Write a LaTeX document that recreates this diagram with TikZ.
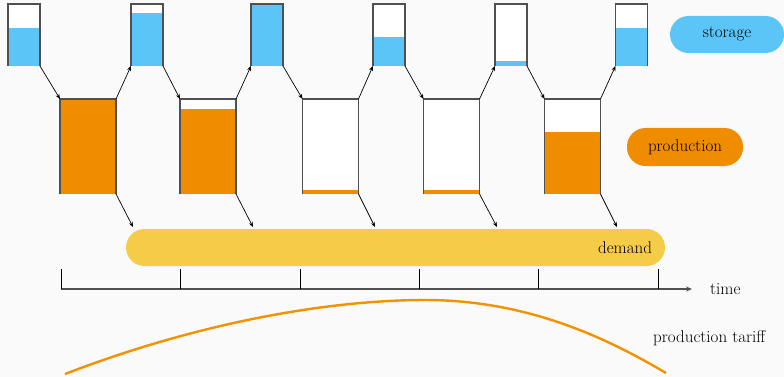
\documentclass[tikz,border=0pt]{standalone}
\usetikzlibrary{arrows.meta}
\definecolor{bg}{HTML}{FAFAFA}
\definecolor{sblue}{HTML}{5BC5F7}
\definecolor{porange}{HTML}{EF8C00}
\definecolor{dyellow}{HTML}{F5CC47}
\definecolor{tcurve}{HTML}{F39200}
\definecolor{edgegray}{HTML}{505050}
\begin{document}
\begin{tikzpicture}[x=1pt,y=-1pt,
  every node/.style={font=\fontsize{17}{20}\selectfont},
  store/.style={inner sep=0pt,outer sep=0pt,minimum width=32pt,minimum height=62pt},
  prod/.style={inner sep=0pt,outer sep=0pt,minimum width=56pt,minimum height=95pt},
  cup/.style={draw=edgegray,line width=1.1pt},
  arr/.style={draw=black,line width=0.7pt,-{Stealth[length=5pt,width=4pt]}},
  pill/.style={inner sep=0pt,outer sep=0pt,rounded corners=18.5pt,minimum height=37pt}]
\fill[bg] (0,0) rectangle (784,377);
\useasboundingbox (0,0) rectangle (784,377);
% storage containers
\node[store] (s1) at (24,35) {};
\node[store] (s2) at (147,35) {};
\node[store] (s3) at (267,35) {};
\node[store] (s4) at (389,35) {};
\node[store] (s5) at (511,35) {};
\node[store] (s6) at (631.5,35) {};
% production containers
\node[prod] (p1) at (88,146.5) {};
\node[prod] (p2) at (208,146.5) {};
\node[prod] (p3) at (330.5,146.5) {};
\node[prod] (p4) at (451.5,146.5) {};
\node[prod] (p5) at (572.5,146.5) {};
% white interiors
\foreach \n in {s1,s2,s3,s4,s5,s6,p1,p2,p3,p4,p5}
  \fill[white] (\n.south west) rectangle (\n.north east);
% fill levels
\fill[sblue] (s1.south west) rectangle (s1.east |- 0,28);
\fill[sblue] (s2.south west) rectangle (s2.east |- 0,13);
\fill[sblue] (s3.south west) rectangle (s3.north east);
\fill[sblue] (s4.south west) rectangle (s4.east |- 0,37);
\fill[sblue] (s5.south west) rectangle (s5.east |- 0,61.5);
\fill[sblue] (s6.south west) rectangle (s6.east |- 0,28);
\fill[porange] (p1.south west) rectangle (p1.north east);
\fill[porange] (p2.south west) rectangle (p2.east |- 0,109);
\fill[porange] (p3.south west) rectangle (p3.east |- 0,189.5);
\fill[porange] (p4.south west) rectangle (p4.east |- 0,189.5);
\fill[porange] (p5.south west) rectangle (p5.east |- 0,132);
% outlines
\foreach \n in {s1,s2,s3,s4,s5,s6,p1,p2,p3,p4,p5}
  \draw[cup] (\n.south west) -- (\n.north west) -- (\n.north east) -- (\n.south east);
% demand bar
\node[pill,fill=dyellow,minimum width=539pt,text width=513pt,align=right,inner xsep=13pt] (demand) at (395.5,247.5) {demand};
% arrow ends on demand bar
\coordinate (d1) at (133,227);
\coordinate (d2) at (253,227);
\coordinate (d3) at (375,227);
\coordinate (d4) at (497,227);
\coordinate (d5) at (617,227);
% arrows
\draw[arr] (s1.south east) -- (p1.north west);
\draw[arr] (p1.north east) -- (s2.south west);
\draw[arr] (s2.south east) -- (p2.north west);
\draw[arr] (p2.north east) -- (s3.south west);
\draw[arr] (s3.south east) -- (p3.north west);
\draw[arr] (p3.north east) -- (s4.south west);
\draw[arr] (s4.south east) -- (p4.north west);
\draw[arr] (p4.north east) -- (s5.south west);
\draw[arr] (s5.south east) -- (p5.north west);
\draw[arr] (p5.north east) -- (s6.south west);
\draw[arr] (p1.south east) -- (d1);
\draw[arr] (p2.south east) -- (d2);
\draw[arr] (p3.south east) -- (d3);
\draw[arr] (p4.south east) -- (d4);
\draw[arr] (p5.south east) -- (d5);
% legend
\node[pill,fill=sblue,minimum width=114pt] (lstorage) at (727,34.5) {storage};
\node[pill,fill=porange,minimum width=116pt,minimum height=38pt] (lprod) at (685,147) {production};
% time axis
\coordinate (t0) at (61,289);
\coordinate (t1) at (180,289);
\coordinate (t2) at (300,289);
\coordinate (t3) at (419,289);
\coordinate (t4) at (538,289);
\coordinate (t5) at (658,289);
\coordinate (tend) at (692,289);
\draw[draw=edgegray,line width=1.1pt,-{Stealth[length=6pt,width=5pt]}] (t0) -- (tend);
\foreach \t in {t0,t1,t2,t3,t4,t5}
  \draw[line width=0.7pt] (\t) -- ++(0,-20);
\node[anchor=west,inner sep=0pt] (time) at (710,289) {time};
% tariff curve
\draw[tcurve,line width=2.4pt] (65,374) .. controls (200,322) and (330,300) .. (425,300) .. controls (530,300) and (610,340) .. (666,373);
\node[anchor=west,inner sep=0pt] (tariff) at (653,338) {production tariff};
\end{tikzpicture}
\end{document}
